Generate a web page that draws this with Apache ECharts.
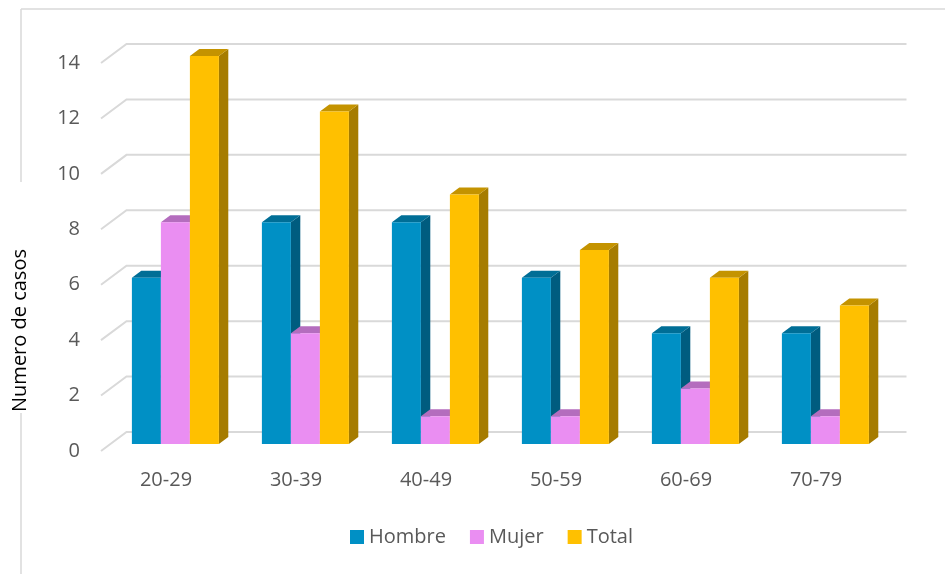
<!DOCTYPE html>
<html><head><meta charset="utf-8">
<script src="https://cdn.jsdelivr.net/npm/echarts@6/dist/echarts.min.js"></script>
<style>html,body{margin:0;padding:0;background:#fff}#c{width:945px;height:574px}</style>
</head><body><div id="c"></div>
<script>
const categories = ['20-29','30-39','40-49','50-59','60-69','70-79'];
const hombre = [6, 8, 8, 6, 4, 4];
const mujer  = [8, 4, 1, 1, 2, 1];
const total  = [14, 12, 9, 7, 6, 5];
const yTicks = [0, 2, 4, 6, 8, 10, 12, 14];
const seriesNames = ['Hombre', 'Mujer', 'Total'];
const axisTitle = 'Numero de casos';

const faceColors = ['#0090C5', '#EA8EF2', '#FFC000'];
const sideColors = ['#005C7F', '#9C5FA5', '#A67C00'];
const topColors  = ['#006E96', '#B46DBE', '#C49300'];
const FONT = "'Open Sans', 'DejaVu Sans', sans-serif";

const DX = 25.5, DY = 19;       // full floor depth offset
const F0 = 7/19, F1 = 14/19;    // bars occupy this depth range

function barRender(s) {
  return function (params, api) {
    const i = api.value(0), v = api.value(1);
    const base = api.coord([i, 0]);
    const top = api.coord([i, v]);
    const band = api.size([1, 0])[0];
    const w = band * 29 / 130;
    const cx = base[0] + DX * F0;
    const x0 = cx - 1.5 * w + s * w, x1 = x0 + w;
    const yb = base[1] - DY * F0, yt = top[1] - DY * F0;
    const ddx = DX * (F1 - F0), ddy = DY * (F1 - F0);
    return {
      type: 'group',
      children: [
        { type: 'polygon', shape: { points: [[x1, yt], [x1 + ddx, yt - ddy], [x1 + ddx, yb - ddy], [x1, yb]] }, style: { fill: sideColors[s] } },
        { type: 'polygon', shape: { points: [[x0, yt], [x0 + ddx, yt - ddy], [x1 + ddx, yt - ddy], [x1, yt]] }, style: { fill: topColors[s] } },
        { type: 'rect', shape: { x: x0, y: yt, width: w, height: yb - yt }, style: { fill: faceColors[s] } }
      ]
    };
  };
}

function wallRender(params, api) {
  const v = api.value(1);
  const base = api.coord([0, v]);
  const band = api.size([1, 0])[0];
  const xl = base[0] - band / 2;
  const xr = xl + band * categories.length;
  const y = base[1];
  return {
    type: 'polyline',
    shape: { points: [[xl, y], [xl + DX, y - DY], [xr + DX, y - DY]] },
    style: { stroke: '#D9D9D9', lineWidth: 2, fill: null }
  };
}

const valueSets = [hombre, mujer, total];
const series = [{
  type: 'custom', name: 'wall', z: 1, silent: true,
  renderItem: wallRender,
  data: yTicks.map(v => [0, v]),
  encode: { x: 0, y: 1 }
}];
seriesNames.forEach((n, s) => {
  series.push({
    type: 'custom', name: n, z: 2,
    itemStyle: { color: faceColors[s] },
    renderItem: barRender(s),
    data: categories.map((c, i) => [i, valueSets[s][i]]),
    encode: { x: 0, y: 1 }
  });
});

const chart = echarts.init(document.getElementById('c'), null, { renderer: 'canvas' });
chart.setOption({
  animation: false,
  color: faceColors,
  textStyle: { fontFamily: FONT },
  grid: { left: 101, right: 64, top: 63, bottom: 123, containLabel: false },
  xAxis: {
    type: 'category', data: categories,
    axisLine: { show: false }, axisTick: { show: false }, splitLine: { show: false },
    axisLabel: { color: '#595959', fontSize: 20, margin: 19, fontFamily: FONT }
  },
  yAxis: {
    type: 'value', min: 0, max: 14, interval: 2,
    axisLine: { show: false }, axisTick: { show: false }, splitLine: { show: false },
    axisLabel: { color: '#595959', fontSize: 20, margin: 21, fontFamily: FONT }
  },
  legend: {
    data: seriesNames, left: 345, top: 522, icon: 'rect',
    itemWidth: 14, itemHeight: 14, itemGap: 24,
    textStyle: { color: '#595959', fontSize: 20, fontFamily: FONT }
  },
  graphic: [
    { type: 'line', shape: { x1: 21, y1: 9, x2: 945, y2: 9 }, style: { stroke: '#D9D9D9', lineWidth: 1.5 } },
    { type: 'line', shape: { x1: 21, y1: 9, x2: 21, y2: 182 }, style: { stroke: '#D9D9D9', lineWidth: 1.5 } },
    { type: 'line', shape: { x1: 21, y1: 413, x2: 21, y2: 574 }, style: { stroke: '#D9D9D9', lineWidth: 1.5 } },
    { type: 'text', x: 20.5, y: 330.5, rotation: Math.PI / 2,
      style: { text: axisTitle, fill: '#000000', fontSize: 20, fontFamily: FONT, align: 'center', verticalAlign: 'middle' } }
  ],
  series: series
});
</script>
</body></html>
